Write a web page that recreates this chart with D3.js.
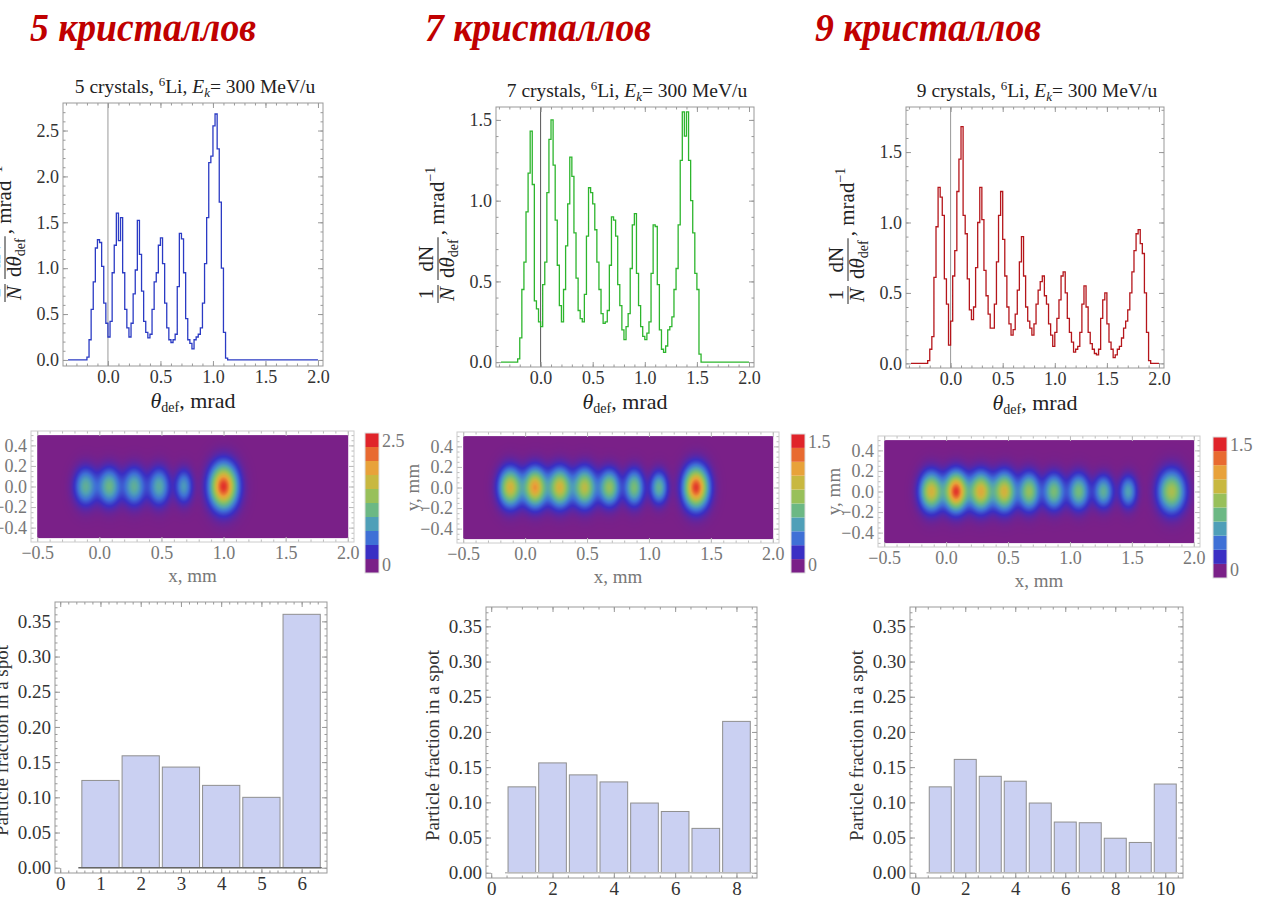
<!DOCTYPE html>
<html>
<head>
<meta charset="utf-8">
<script src="https://cdnjs.cloudflare.com/ajax/libs/d3/7.8.5/d3.min.js"></script>
<style>
  body { margin: 0; background: #fff; }
  svg { display: block; }
</style>
</head>
<body>
<svg id="fig" width="1263" height="905"></svg>
<script>
// ---- data ----
const headers = ["5 кристаллов", "7 кристаллов", "9 кристаллов"];
const crystals = [5, 7, 9];

// angular distributions, bins of 0.02 mrad
const binWidth = 0.02;
const thetaMin = -0.38, thetaMax = 2.0;
const start5 = -0.20;
const dist5 = [0.03,0.22,0.55,0.85,1.22,1.31,1.28,1.02,0.62,0.40,0.25,0.42,0.95,1.25,1.60,1.30,1.55,0.95,0.55,0.35,
  0.25,0.40,0.72,0.98,1.52,1.15,0.75,0.42,0.30,0.24,0.28,0.55,0.85,0.95,1.25,1.33,1.05,0.62,0.35,0.22,
  0.19,0.22,0.28,0.80,1.38,1.32,0.95,0.45,0.22,0.18,0.12,0.22,0.25,0.28,0.35,0.62,1.05,1.55,2.15,2.22,
  2.55,2.68,2.30,1.72,1.00,0.30,0.02];
const start7 = -0.22;
const dist7 = [0.02,0.15,0.45,0.62,0.93,1.17,1.43,1.10,0.38,0.33,0.25,0.22,0.48,0.62,1.05,1.38,1.50,1.22,0.88,0.60,
  0.35,0.25,0.45,0.72,0.98,1.27,1.15,0.80,0.52,0.32,0.27,0.25,0.42,0.78,1.08,1.05,0.98,0.82,0.62,0.45,
  0.30,0.24,0.25,0.32,0.60,0.90,0.88,0.78,0.48,0.35,0.20,0.14,0.22,0.30,0.58,0.85,0.92,0.55,0.35,0.22,
  0.16,0.14,0.18,0.25,0.55,0.85,0.84,0.48,0.20,0.08,0.06,0.10,0.20,0.22,0.28,0.45,0.58,0.85,1.25,1.55,
  1.40,1.55,1.25,1.00,0.80,0.55,0.45,0.05];
const start9 = -0.22;
const dist9 = [0.02,0.10,0.19,0.61,0.97,1.25,1.18,1.05,0.60,0.42,0.13,0.30,0.62,0.80,1.22,1.45,1.68,1.05,0.92,0.60,
  0.38,0.31,0.40,0.68,1.00,1.25,1.02,0.66,0.48,0.35,0.25,0.25,0.42,0.72,1.05,1.22,0.88,0.62,0.40,0.28,
  0.20,0.24,0.35,0.52,0.72,0.90,0.62,0.40,0.30,0.25,0.20,0.28,0.42,0.52,0.58,0.62,0.48,0.42,0.28,0.20,
  0.12,0.22,0.32,0.45,0.62,0.65,0.50,0.32,0.22,0.15,0.08,0.10,0.12,0.22,0.42,0.55,0.40,0.22,0.14,0.10,
  0.07,0.06,0.10,0.32,0.45,0.50,0.28,0.15,0.10,0.04,0.06,0.10,0.12,0.18,0.25,0.30,0.38,0.50,0.65,0.80,
  0.92,0.95,0.85,0.78,0.50,0.22,0.02];

// spots on the screen (x centre, peak density, widths in mm)
const spotX5 = [-0.11, 0.08, 0.28, 0.48, 0.68, 1.00];
const spotPeak5 = [1.0, 1.1, 1.0, 0.95, 0.8, 2.45];
const spotSx5 = [0.058, 0.058, 0.058, 0.055, 0.045, 0.072];
const spotSy5 = [0.115, 0.115, 0.115, 0.115, 0.105, 0.14];
const spotX7 = [-0.12, 0.08, 0.28, 0.48, 0.68, 0.88, 1.08, 1.38];
const spotPeak7 = [1.05, 1.2, 1.05, 0.95, 0.82, 0.72, 0.62, 1.45];
const spotSx7 = [0.06, 0.06, 0.06, 0.06, 0.055, 0.05, 0.045, 0.065];
const spotSy7 = [0.12, 0.12, 0.12, 0.12, 0.11, 0.11, 0.10, 0.13];
const spotX9 = [-0.12, 0.08, 0.28, 0.47, 0.67, 0.87, 1.07, 1.27, 1.47, 1.82];
const spotPeak9 = [1.05, 1.45, 1.1, 1.05, 0.82, 0.72, 0.7, 0.6, 0.52, 0.9];
const spotSx9 = [0.06, 0.06, 0.06, 0.06, 0.055, 0.055, 0.055, 0.05, 0.045, 0.07];
const spotSy9 = [0.12, 0.12, 0.12, 0.12, 0.115, 0.11, 0.11, 0.10, 0.10, 0.13];
const densityMax = [2.5, 1.5, 1.5];
const legendColors = ["#7a2088", "#3a2fc4", "#3f70d6", "#4f9fb8", "#6cb884",
  "#98c05a", "#c8b840", "#e8a23a", "#e86a30", "#e0242a"];

// particle fraction per spot
const frac5 = [0.124, 0.159, 0.143, 0.117, 0.100, 0.360];
const frac7 = [0.122, 0.156, 0.139, 0.129, 0.099, 0.087, 0.063, 0.215];
const frac9 = [0.122, 0.161, 0.137, 0.130, 0.099, 0.072, 0.071, 0.049, 0.043, 0.126];

const thetaTicks = [0, 0.5, 1.0, 1.5, 2.0];
const screenXTicks = [-0.5, 0, 0.5, 1.0, 1.5, 2.0];
const screenYTicks = [-0.4, -0.2, 0, 0.2, 0.4];
const fracTicks = [0, 0.05, 0.10, 0.15, 0.20, 0.25, 0.30, 0.35];

// ---- layout ----
const serif = "'Liberation Serif','DejaVu Serif',serif";
const svg = d3.select("#fig");

const panels = [
  { dist: dist5, start: start5, color: "#2b3bc4", zero: "#999",
    line: { left: 63, top: 103, right: 323, bottom: 366 }, yDom: [-0.066, 2.8],
    spots: [spotX5, spotPeak5, spotSx5, spotSy5],
    heat: { left: 31, top: 431, right: 354, bottom: 542 }, bar: { x: 365, top: 433, bottom: 573 },
    frac: frac5, fracBox: { left: 55, top: 602, right: 327, bottom: 873 }, fracTicksX: d3.range(0, 7), base: "#666" },
  { dist: dist7, start: start7, color: "#2db52d", zero: "#555",
    line: { left: 496, top: 107, right: 754, bottom: 367 }, yDom: [-0.03, 1.58],
    spots: [spotX7, spotPeak7, spotSx7, spotSy7],
    heat: { left: 457, top: 432, right: 779, bottom: 543 }, bar: { x: 791, top: 434, bottom: 573 },
    frac: frac7, fracBox: { left: 486, top: 607, right: 757, bottom: 878 }, fracTicksX: [0, 2, 4, 6, 8], base: "#bbb" },
  { dist: dist9, start: start9, color: "#b5161b", zero: "#999",
    line: { left: 906, top: 107, right: 1164, bottom: 368 }, yDom: [-0.033, 1.82],
    spots: [spotX9, spotPeak9, spotSx9, spotSy9],
    heat: { left: 878, top: 436, right: 1200, bottom: 547 }, bar: { x: 1213, top: 437, bottom: 578 },
    frac: frac9, fracBox: { left: 910, top: 607, right: 1183, bottom: 878 }, fracTicksX: [0, 2, 4, 6, 8, 10], base: "#bbb" }
];

// Mathematica-like frame: ticks inward on all four sides, labels bottom/left
function frame(g, box, x, y, o) {
  const L = 5, l = 2.5;
  const ax = (gen, scale, vals, size, fmt, tx, ty) => {
    const a = g.append("g").attr("transform", `translate(${tx},${ty})`)
      .call(gen(scale).tickValues(vals).tickSize(-size).tickPadding(o.pad || 5)
        .tickFormat(fmt || ""));
    a.select(".domain").remove();
    a.selectAll("line").attr("stroke", o.tick);
    a.selectAll("text").attr("fill", o.label).style("font-family", serif)
      .style("font-size", o.fs + "px");
    return a;
  };
  ax(d3.axisBottom, x, o.xMinor, l, null, 0, box.bottom);
  ax(d3.axisTop, x, o.xMinor, l, null, 0, box.top);
  ax(d3.axisLeft, y, o.yMinor, l, null, box.left, 0);
  ax(d3.axisRight, y, o.yMinor, l, null, box.right, 0);
  ax(d3.axisBottom, x, o.xMajor, L, o.fx, 0, box.bottom);
  ax(d3.axisTop, x, o.xMajor, L, null, 0, box.top);
  ax(d3.axisLeft, y, o.yMajor, L, o.fy, box.left, 0);
  ax(d3.axisRight, y, o.yMajor, L, null, box.right, 0);
  g.append("rect").attr("x", box.left).attr("y", box.top)
    .attr("width", box.right - box.left).attr("height", box.bottom - box.top)
    .attr("fill", "none").attr("stroke", o.stroke).attr("stroke-width", 1);
}

function sub(t, s, it) {
  t.append("tspan").text(s).style("font-style", it ? "italic" : "normal");
}

// ---- headers ----
headers.forEach((h, i) => {
  svg.append("text").attr("x", [30, 425, 815][i]).attr("y", 41)
    .attr("textLength", 226).attr("lengthAdjust", "spacingAndGlyphs")
    .style("font-family", serif).style("font-weight", "bold").style("font-style", "italic")
    .style("font-size", "39px").attr("fill", "#c00000").text(h);
});

panels.forEach((p, k) => {
  // ---------- angular distribution ----------
  const b = p.line;
  const x = d3.scaleLinear().domain([-0.428, 2.048]).range([b.left, b.right]);
  const y = d3.scaleLinear().domain(p.yDom).range([b.bottom, b.top]);
  const g = svg.append("g");
  const clipId = "clip" + k;
  g.append("clipPath").attr("id", clipId).append("rect")
    .attr("x", b.left).attr("y", b.top).attr("width", b.right - b.left).attr("height", b.bottom - b.top);

  g.append("line").attr("x1", x(0)).attr("x2", x(0)).attr("y1", b.top).attr("y2", b.bottom)
    .attr("stroke", p.zero).attr("stroke-width", 1);

  const pts = [[thetaMin, 0]]
    .concat(p.dist.map((v, i) => [p.start + i * binWidth, v]))
    .concat([[p.start + p.dist.length * binWidth, 0], [thetaMax, 0]]);
  g.append("path").datum(pts).attr("clip-path", `url(#${clipId})`)
    .attr("d", d3.line().x(d => x(d[0])).y(d => y(d[1])).curve(d3.curveStepAfter))
    .attr("fill", "none").attr("stroke", p.color).attr("stroke-width", 1.3);

  frame(g, b, x, y, {
    xMajor: thetaTicks, xMinor: d3.range(-4, 21).map(d => d / 10),
    yMajor: d3.range(0, p.yDom[1], 0.5), yMinor: d3.range(0, p.yDom[1], 0.1),
    fx: d3.format(".1f"), fy: d3.format(".1f"),
    tick: "#999", label: "#333", stroke: "#999", fs: 18, pad: 4
  });

  // title
  const tt = g.append("text").attr("x", (b.left + b.right) / 2 + 2).attr("y", b.top - 10)
    .attr("text-anchor", "middle").style("font-family", serif).style("font-size", "19.5px").attr("fill", "#222");
  tt.append("tspan").text(crystals[k] + " crystals, ");
  tt.append("tspan").text("6").attr("dy", -7).style("font-size", "13px");
  tt.append("tspan").text("Li, ").attr("dy", 7);
  tt.append("tspan").text("E").style("font-style", "italic");
  tt.append("tspan").text("k").style("font-style", "italic").style("font-size", "13px").attr("dy", 4);
  tt.append("tspan").text("= 300 MeV/u").attr("dy", -4);

  // x label
  const xl = g.append("text").attr("x", (b.left + b.right) / 2).attr("y", b.bottom + 42)
    .attr("text-anchor", "middle").style("font-family", serif).style("font-size", "22px").attr("fill", "#222");
  xl.append("tspan").text("θ").style("font-style", "italic");
  xl.append("tspan").text("def").style("font-size", "14px").attr("dy", 4);
  xl.append("tspan").text(", mrad").attr("dy", -4);

  // y label: 1/N dN/dθ_def, mrad^-1 (rotated)
  const yl = g.append("g").attr("transform", `translate(${b.left - 58},${b.bottom - 64}) rotate(-90)`)
    .style("font-family", serif).style("font-size", "21px").attr("fill", "#222");
  let rx = 0;
  const frac = (num, den) => {
    const tn = yl.append("text").attr("y", -5), td = yl.append("text").attr("y", 16);
    num(tn); den(td);
    const wn = tn.node().getComputedTextLength(), wd = td.node().getComputedTextLength();
    const W = Math.max(wn, wd) + 4;
    tn.attr("x", rx + (W - wn) / 2); td.attr("x", rx + (W - wd) / 2);
    yl.append("line").attr("x1", rx).attr("x2", rx + W).attr("y1", 0).attr("y2", 0)
      .attr("stroke", "#222").attr("stroke-width", 1);
    rx += W + 5;
  };
  frac(t => sub(t, "1"), t => sub(t, "N", true));
  frac(t => sub(t, "dN"), t => {
    sub(t, "d"); sub(t, "θ", true);
    t.append("tspan").text("def").style("font-size", "14px").attr("dy", 4);
  });
  const tm = yl.append("text").attr("x", rx - 3).attr("y", 6);
  tm.append("tspan").text(", mrad");
  tm.append("tspan").text("−1").style("font-size", "14px").attr("dy", -9);

  // ---------- screen density ----------
  const h = p.heat;
  const hx = d3.scaleLinear().domain([-0.55, 2.05]).range([h.left, h.right]);
  const hy = d3.scaleLinear().domain([-0.54, 0.54]).range([h.bottom, h.top]);
  const hg = svg.append("g");
  const [sx, sp, ssx, ssy] = p.spots;
  const vmax = densityMax[k];
  const col = d3.scaleLinear().domain(legendColors.map((c, i) => i / 9)).range(legendColors).clamp(true);
  const px0 = hx(-0.5), px1 = hx(2.0), py0 = hy(0.5), py1 = hy(-0.5);
  const W = Math.round(px1 - px0), H = Math.round(py1 - py0);
  const cv = document.createElement("canvas");
  cv.width = W; cv.height = H;
  const ctx = cv.getContext("2d");
  const img = ctx.createImageData(W, H);
  for (let j = 0; j < H; j++) {
    const my = hy.invert(py0 + j + 0.5);
    for (let i = 0; i < W; i++) {
      const mx = hx.invert(px0 + i + 0.5);
      let v = 0;
      sx.forEach((c, s) => {
        v += sp[s] * Math.exp(-((mx - c) ** 2) / (2 * ssx[s] ** 2) - (my * my) / (2 * ssy[s] ** 2));
      });
      const c = d3.rgb(col(v / vmax));
      const o = (j * W + i) * 4;
      img.data[o] = c.r; img.data[o + 1] = c.g; img.data[o + 2] = c.b; img.data[o + 3] = 255;
    }
  }
  ctx.putImageData(img, 0, 0);
  hg.append("image").attr("href", cv.toDataURL()).attr("x", px0).attr("y", py0)
    .attr("width", W).attr("height", H).attr("preserveAspectRatio", "none");

  frame(hg, h, hx, hy, {
    xMajor: screenXTicks, xMinor: d3.range(-5, 21).map(d => d / 10),
    yMajor: screenYTicks, yMinor: d3.range(-10, 11).map(d => d / 20),
    fx: d3.format(".1f"), fy: d3.format(".1f"),
    tick: "#bbb", label: "#777", stroke: "#ccc", fs: 18, pad: 4
  });
  hg.append("text").attr("x", (h.left + h.right) / 2).attr("y", h.bottom + 40).attr("text-anchor", "middle")
    .style("font-family", serif).style("font-size", "19px").attr("fill", "#777").text("x, mm");
  hg.append("text").attr("transform", `translate(${h.left - 38},${(h.top + h.bottom) / 2}) rotate(-90)`)
    .attr("text-anchor", "middle").style("font-family", serif).style("font-size", "19px")
    .attr("fill", "#777").text("y, mm");

  // legend bar
  const lb = p.bar;
  const ly = d3.scaleLinear().domain([0, legendColors.length]).range([lb.bottom, lb.top]);
  hg.selectAll(".band").data(legendColors).join("rect")
    .attr("x", lb.x).attr("width", 14)
    .attr("y", (c, i) => ly(i + 1)).attr("height", (c, i) => ly(i) - ly(i + 1))
    .attr("fill", c => c);
  hg.append("rect").attr("x", lb.x).attr("y", lb.top).attr("width", 14).attr("height", lb.bottom - lb.top)
    .attr("fill", "none").attr("stroke", "#ddd");
  hg.append("text").attr("x", lb.x + 17).attr("y", lb.top + 14).style("font-family", serif)
    .style("font-size", "18px").attr("fill", "#777").text(d3.format(".1f")(vmax));
  hg.append("text").attr("x", lb.x + 17).attr("y", lb.bottom - 2).style("font-family", serif)
    .style("font-size", "18px").attr("fill", "#777").text("0");

  // ---------- particle fraction ----------
  const fb = p.fracBox;
  const n = p.frac.length;
  const bx = d3.scaleLinear().domain([-0.02 * (n + 0.5), 1.02 * (n + 0.5)]).range([fb.left, fb.right]);
  const by = d3.scaleLinear().domain([-0.0075, 0.3775]).range([fb.bottom, fb.top]);
  const bg = svg.append("g");
  bg.selectAll(".bar").data(p.frac).join("rect")
    .attr("x", (d, i) => bx(i + 0.5) + 1.5)
    .attr("width", bx(1) - bx(0) - 3)
    .attr("y", d => by(d)).attr("height", d => by(0) - by(d))
    .attr("fill", "#cad0f2").attr("stroke", "#8f8f8f").attr("stroke-width", 1);
  bg.append("line").attr("x1", bx(0.45)).attr("x2", bx(n + 0.5)).attr("y1", by(0)).attr("y2", by(0))
    .attr("stroke", p.base).attr("stroke-width", 1.5);
  const minorStep = n > 6 ? 0.5 : 0.2;
  frame(bg, fb, bx, by, {
    xMajor: p.fracTicksX, xMinor: d3.range(0, n + 0.6, minorStep),
    yMajor: fracTicks, yMinor: d3.range(0, 0.376, 0.01),
    fx: d3.format("d"), fy: d3.format(".2f"),
    tick: "#999", label: "#333", stroke: "#999", fs: 19, pad: 4
  });
  bg.append("text").attr("transform", `translate(${fb.left - 47},${(fb.top + fb.bottom) / 2 + 3}) rotate(-90)`)
    .attr("text-anchor", "middle").style("font-family", serif).style("font-size", "19px")
    .attr("fill", "#333").text("Particle fraction in a spot");
});
</script>
</body>
</html>
